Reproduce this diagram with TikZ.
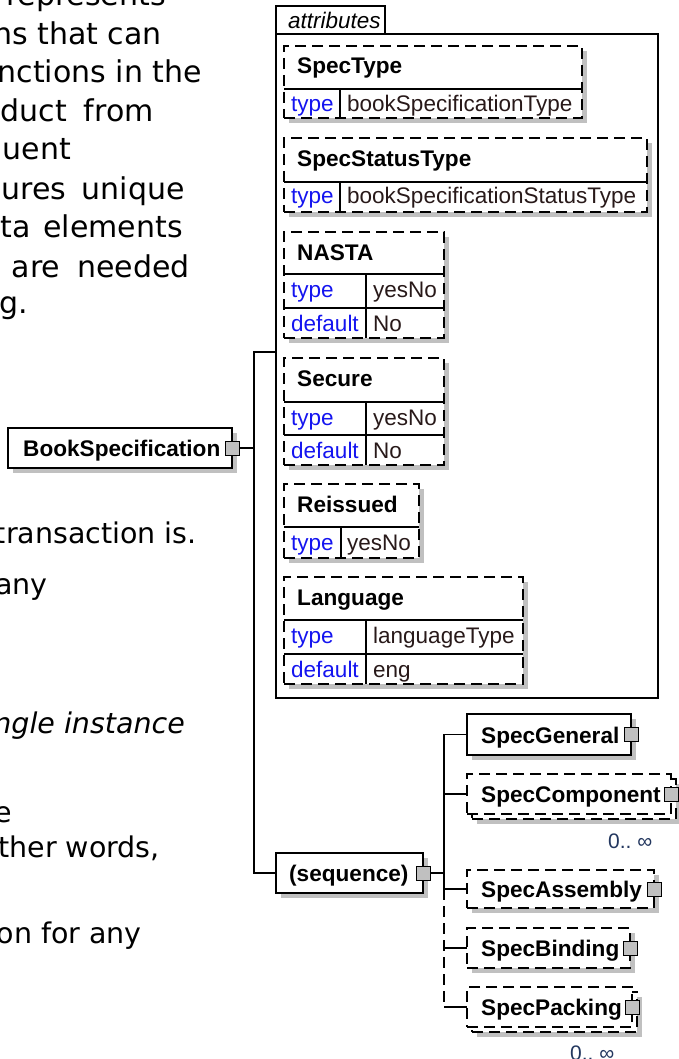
\documentclass[tikz,border=0pt]{standalone}
\usepackage{fontspec}
\setmainfont{Liberation Sans}
\newfontfamily\verdfont{DejaVu Sans}
\usetikzlibrary{shadows}
\definecolor{shadowc}{RGB}{192,192,192}
\definecolor{keyblue}{RGB}{20,20,240}
\definecolor{valc}{RGB}{40,25,25}
\definecolor{occc}{RGB}{35,55,95}
\tikzset{
  shadowed/.style={drop shadow={shadow xshift=5pt,shadow yshift=-5pt,opacity=1,fill=shadowc}},
  elbox/.style={draw=black,line width=1.4pt,fill=white,rectangle,inner sep=0pt,outer sep=0pt,anchor=north west},
  dsh/.style={dash pattern=on 11pt off 6pt},
  sqr/.style={draw=black,line width=1pt,fill=shadowc,rectangle,inner sep=0pt,outer sep=0pt,minimum size=14pt},
  wire/.style={draw=black,line width=1.3pt},
  tline/.style={draw=black,line width=1.3pt},
  nm/.style={anchor=base west,inner sep=0pt,font=\fontsize{22.6}{26}\selectfont\bfseries},
  ky/.style={anchor=base west,inner sep=0pt,text=keyblue,font=\fontsize{22.5}{26}\selectfont},
  vl/.style={anchor=base west,inner sep=0pt,text=valc,font=\fontsize{22.5}{26}\selectfont},
  occ/.style={anchor=base west,inner sep=0pt,text=occc,font=\fontsize{21}{25}\selectfont},
  para/.style={anchor=base east,inner sep=0pt,font=\verdfont\fontsize{30}{36}\selectfont},
  paralow/.style={anchor=base east,inner sep=0pt,font=\verdfont\fontsize{28.5}{34}\selectfont},
}
\begin{document}
\begin{tikzpicture}[x=1pt,y=-1pt]
\useasboundingbox[fill=white] (0,0) rectangle (678,1059);

% paragraph fragments
\node[para] (t1) at (166,6) {represents};
\node[para] (t2) at (162,45) {ns that can};
\node[para] (t3) at (202,83) {nctions in the};
\node[para] (t4) at (154,122) {\makebox[153pt][s]{duct from}};
\node[para] (t5) at (71,160) {uent};
\node[para] (t6) at (185,200) {\makebox[183pt][s]{ures unique}};
\node[para] (t7) at (183,237) {\makebox[182pt][s]{ta elements}};
\node[para] (t8) at (190,277) {\makebox[178pt][s]{are needed}};
\node[para] (t9) at (28,313) {g.};
\node[paralow] (t10) at (197,543) {transaction is.};
\node[paralow] (t11) at (48,594) {any};
\node[paralow,font=\verdfont\fontsize{28.5}{34}\selectfont\itshape] (t12) at (185,733) {ngle instance};
\node[paralow] (t13) at (12,822) {e};
\node[paralow] (t14) at (160,857) {ther words,};
\node[paralow] (t15) at (142,943) {on for any};

% attributes container
\node[draw=black,line width=1.4pt,rectangle,inner sep=0pt,outer sep=0pt,anchor=north west,minimum width=382pt,minimum height=664pt] (attrs) at (276,34) {};
\draw[wire] (attrs.north west) |- (385,6) coordinate (tabR) -- (385,34);
\node[anchor=base west,inner sep=0pt,font=\fontsize{22.5}{26}\selectfont\itshape] (attrLbl) at (288,29) {attributes};

% SpecType
\node[elbox,dsh,shadowed,minimum width=298pt,minimum height=72pt] (aType) at (284,46) {};
\draw[tline] (284,89) -- (582,89) (340,89) -- (340,118);
\node[nm] (aTypeN) at (297,74) {SpecType};
\node[ky] (aTypeK) at (291,112) {type};
\node[vl] (aTypeV) at (347,112) {bookSpecificationType};

% SpecStatusType
\node[elbox,dsh,shadowed,minimum width=363pt,minimum height=74pt] (aStat) at (284,138) {};
\draw[tline] (284,182) -- (647,182) (340,182) -- (340,212);
\node[nm] (aStatN) at (297,167) {SpecStatusType};
\node[ky] (aStatK) at (291,204) {type};
\node[vl] (aStatV) at (347,204) {bookSpecificationStatusType};

% NASTA
\node[elbox,dsh,shadowed,minimum width=160pt,minimum height=106pt] (aNasta) at (284,232) {};
\draw[tline] (284,274) -- (444,274) (284,308) -- (444,308) (366,274) -- (366,338);
\node[nm] (aNastaN) at (297,260) {NASTA};
\node[ky] (aNastaK1) at (291,297) {type};
\node[vl] (aNastaV1) at (373,297) {yesNo};
\node[ky] (aNastaK2) at (291,331) {default};
\node[vl] (aNastaV2) at (373,331) {No};

% Secure
\node[elbox,dsh,shadowed,minimum width=160pt,minimum height=107pt] (aSec) at (284,358) {};
\draw[tline] (284,402) -- (444,402) (284,435) -- (444,435) (366,402) -- (366,465);
\node[nm] (aSecN) at (297,386) {Secure};
\node[ky] (aSecK1) at (291,425) {type};
\node[vl] (aSecV1) at (373,425) {yesNo};
\node[ky] (aSecK2) at (291,458) {default};
\node[vl] (aSecV2) at (373,458) {No};

% Reissued
\node[elbox,dsh,shadowed,minimum width=135pt,minimum height=74pt] (aRei) at (284,484) {};
\draw[tline] (284,527) -- (419,527) (341,527) -- (341,558);
\node[nm] (aReiN) at (297,512) {Reissued};
\node[ky] (aReiK) at (291,550) {type};
\node[vl] (aReiV) at (347,550) {yesNo};

% Language
\node[elbox,dsh,shadowed,minimum width=239pt,minimum height=107pt] (aLang) at (284,577) {};
\draw[tline] (284,620) -- (523,620) (284,654) -- (523,654) (366,620) -- (366,684);
\node[nm] (aLangN) at (297,605) {Language};
\node[ky] (aLangK1) at (291,643) {type};
\node[vl] (aLangV1) at (373,643) {languageType};
\node[ky] (aLangK2) at (291,677) {default};
\node[vl] (aLangV2) at (373,677) {eng};

% element boxes
\node[elbox,shadowed,minimum width=224pt,minimum height=40pt] (book) at (8,428) {};
\node[nm] (bookN) at (23,456) {BookSpecification};
\node[sqr] (bookSq) at (book.east) {};

\node[elbox,shadowed,minimum width=147pt,minimum height=40pt] (seq) at (276,853) {};
\node[nm] (seqN) at (289,881) {(sequence)};
\node[sqr] (seqSq) at (seq.east) {};

\node[elbox,shadowed,minimum width=164pt,minimum height=41pt] (gen) at (467,714) {};
\node[nm] (genN) at (481,743) {SpecGeneral};
\node[sqr] (genSq) at (gen.east) {};

\node[elbox,dsh,shadowed,minimum width=204pt,minimum height=40pt] (compB) at (472,779) {};
\node[elbox,dsh,minimum width=204pt,minimum height=40pt] (comp) at (467,774) {};
\node[nm] (compN) at (481,802) {SpecComponent};
\node[sqr] (compSq) at (comp.east) {};
\node[occ] (compOcc) at (608,848) {0..\ ∞};

\node[elbox,dsh,shadowed,minimum width=187pt,minimum height=38pt] (asm) at (467,870) {};
\node[nm] (asmN) at (481,897) {SpecAssembly};
\node[sqr] (asmSq) at (asm.east) {};

\node[elbox,dsh,shadowed,minimum width=163pt,minimum height=40pt] (bind) at (467,928) {};
\node[nm] (bindN) at (481,956) {SpecBinding};
\node[sqr] (bindSq) at (bind.east) {};

\node[elbox,dsh,shadowed,minimum width=165pt,minimum height=40pt] (packB) at (472,992) {};
\node[elbox,dsh,minimum width=165pt,minimum height=40pt] (pack) at (467,987) {};
\node[nm] (packN) at (481,1015) {SpecPacking};
\node[sqr] (packSq) at (pack.east) {};
\node[occ] (packOcc) at (570,1060) {0..\ ∞};

% connectors
\coordinate (attrIn) at (276,352);
\coordinate (trunk) at (254,448);
\draw[wire] (bookSq.east) -- (trunk);
\draw[wire] (attrIn) -| (trunk);
\draw[wire] (trunk) |- (seq.west);
\coordinate (bus) at (444,873);
\draw[wire] (seqSq.east) -- (bus);
\draw[wire] (gen.west) -| (bus);
\draw[wire] (comp.west) -| (bus);
\draw[wire] (asm.west) -| (bus);
\draw[wire] (bind.west) -- (bind.west -| bus);
\draw[wire] (pack.west) -- (pack.west -| bus);
\draw[wire,dsh] (asm.west -| bus) -- (pack.west -| bus);
\end{tikzpicture}
\end{document}
